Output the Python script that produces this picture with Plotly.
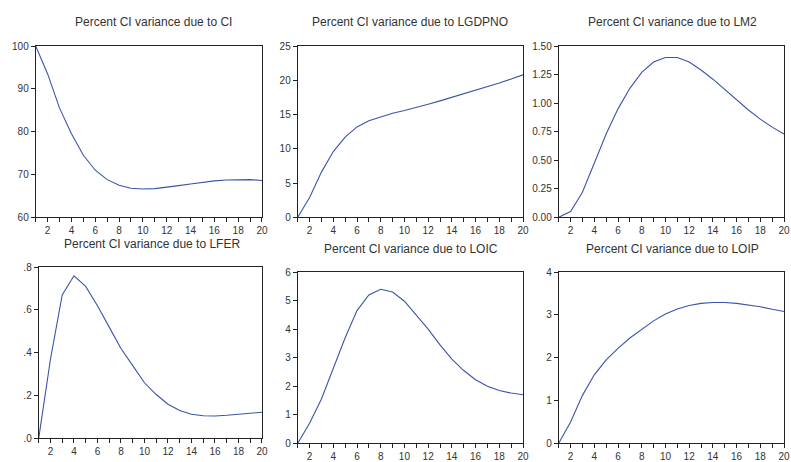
import plotly.graph_objects as go

periods = list(range(1, 21))

ci = [100, 93.5, 85.5, 79.5, 74.5, 71.0, 68.8, 67.5, 66.8, 66.6, 66.7, 67.0, 67.4, 67.8, 68.2, 68.5, 68.7, 68.8, 68.8, 68.6]
lgdpno = [0, 2.9, 6.6, 9.6, 11.7, 13.2, 14.1, 14.7, 15.2, 15.6, 16.0, 16.5, 17.0, 17.5, 18.0, 18.5, 19.0, 19.6, 20.2, 20.8]
lm2 = [0, 0.05, 0.22, 0.47, 0.73, 0.95, 1.13, 1.27, 1.36, 1.40, 1.40, 1.36, 1.29, 1.21, 1.12, 1.03, 0.94, 0.86, 0.79, 0.73]
lfer = [0, 0.37, 0.67, 0.76, 0.71, 0.62, 0.52, 0.42, 0.34, 0.26, 0.205, 0.16, 0.13, 0.113, 0.106, 0.105, 0.108, 0.113, 0.118, 0.122]
loic = [0, 0.7, 1.55, 2.6, 3.7, 4.65, 5.2, 5.4, 5.3, 4.98, 4.5, 4.0, 3.45, 2.95, 2.55, 2.23, 2.0, 1.85, 1.76, 1.7]
loip = [0, 0.5, 1.12, 1.6, 1.95, 2.22, 2.46, 2.67, 2.86, 3.02, 3.14, 3.22, 3.27, 3.29, 3.29, 3.27, 3.23, 3.19, 3.13, 3.08]

titles = ["Percent CI variance due to CI", "Percent CI variance due to LGDPNO",
          "Percent CI variance due to LM2", "Percent CI variance due to LFER",
          "Percent CI variance due to LOIC", "Percent CI variance due to LOIP"]
series = [ci, lgdpno, lm2, lfer, loic, loip]

y_ranges = [[60, 100], [0, 25], [0, 1.5], [0, 0.8], [0, 6], [0, 4]]
y_tickvals = [[60, 70, 80, 90, 100], [0, 5, 10, 15, 20, 25],
              [0, 0.25, 0.5, 0.75, 1.0, 1.25, 1.5], [0, 0.2, 0.4, 0.6, 0.8],
              [0, 1, 2, 3, 4, 5, 6], [0, 1, 2, 3, 4]]
y_ticktext = [["60", "70", "80", "90", "100"], ["0", "5", "10", "15", "20", "25"],
              ["0.00", "0.25", "0.50", "0.75", "1.00", "1.25", "1.50"],
              [".0", ".2", ".4", ".6", ".8"],
              ["0", "1", "2", "3", "4", "5", "6"], ["0", "1", "2", "3", "4"]]

W, H = 791, 462
# pixel boxes: left, right, top, bottom
boxes = [(36, 264, 42, 217), (300, 527, 42, 217), (563, 790, 42, 217),
         (39, 264, 268, 443), (300, 527, 273, 448), (563, 790, 273, 448)]
title_pos = [(155, 17), (413, 17), (678, 17), (153, 244), (414, 249), (678, 249)]

x_ticktext = [str(p) if p % 2 == 0 else "" for p in periods]

fig = go.Figure()
line_color = "#3a55a8"
font_fam = "Liberation Sans, Arial"
for i in range(6):
    n = i + 1
    sfx = "" if n == 1 else str(n)
    fig.add_trace(go.Scatter(x=periods, y=series[i], mode="lines",
                             line=dict(color=line_color, width=1.1),
                             xaxis="x" + sfx, yaxis="y" + sfx,
                             showlegend=False, hoverinfo="skip"))
    l, r, t, b = boxes[i]
    xa = dict(domain=[l / W, r / W], range=[1, 20], tickvals=periods, ticktext=x_ticktext,
              ticks="outside", ticklen=4, tickcolor="#222", tickwidth=1,
              showline=True, mirror=True, linecolor="#222", linewidth=1,
              showgrid=False, zeroline=False,
              tickfont=dict(family=font_fam, size=10, color="#333"),
              anchor="y" + sfx)
    ya = dict(domain=[1 - b / H, 1 - t / H], range=y_ranges[i], tickvals=y_tickvals[i],
              ticktext=y_ticktext[i], ticks="outside", ticklen=4, tickcolor="#222", tickwidth=1,
              showline=True, mirror=True, linecolor="#222", linewidth=1,
              showgrid=False, zeroline=False,
              tickfont=dict(family=font_fam, size=10, color="#333"),
              anchor="x" + sfx)
    fig.layout["xaxis" + sfx] = xa
    fig.layout["yaxis" + sfx] = ya
    tx, ty = title_pos[i]
    fig.add_annotation(text=titles[i], x=tx / W, y=1 - ty / H, xref="paper", yref="paper",
                       showarrow=False, xanchor="center", yanchor="middle",
                       font=dict(family=font_fam, size=12, color="#333"))

fig.update_layout(width=W, height=H, margin=dict(l=0, r=0, t=0, b=0),
                  plot_bgcolor="white", paper_bgcolor="white")
fig.write_html("out.html", config={"displayModeBar": False},
               post_script="document.body.style.margin='0';document.body.style.overflow='hidden';")
